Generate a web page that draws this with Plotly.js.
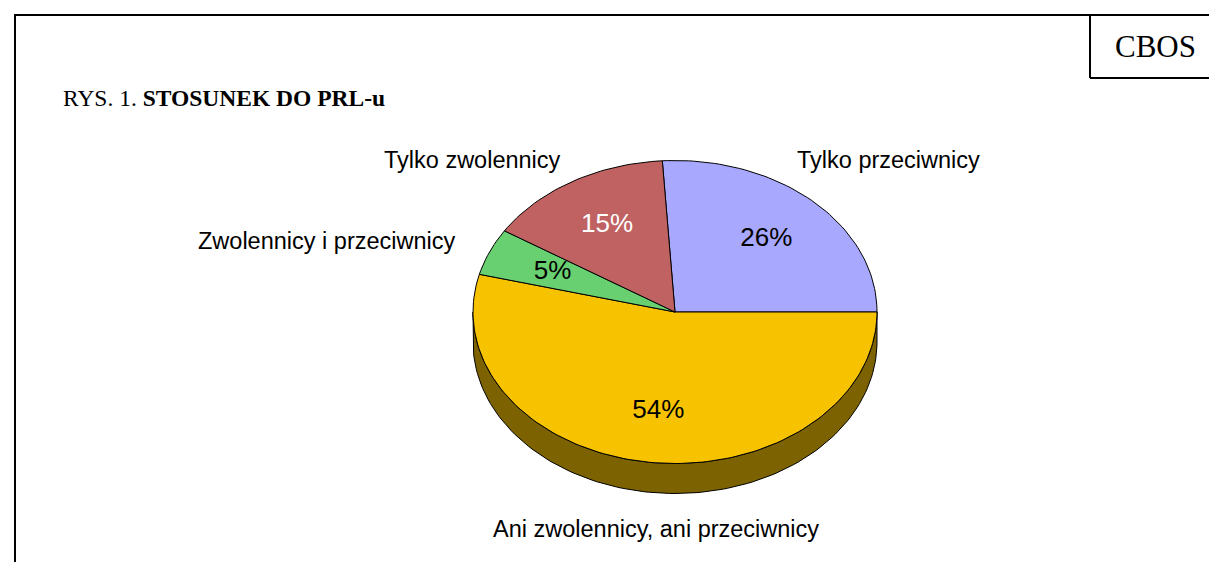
<!DOCTYPE html>
<html>
<head>
<meta charset="utf-8">
<script src="https://cdn.plot.ly/plotly-3.0.1.min.js"></script>
<style>
html,body{margin:0;padding:0;background:#fff;}
#chart{width:1209px;height:562px;}
</style>
</head>
<body>
<div id="chart"></div>
<script>
// ---- data ----
const categories = ["Tylko przeciwnicy", "Ani zwolennicy, ani przeciwnicy", "Zwolennicy i przeciwnicy", "Tylko zwolennicy"];
const values = [26, 54, 5, 15];
const pctLabels = ["26%", "54%", "5%", "15%"];
const colors = ["#A8A8FF", "#F7C300", "#68D070", "#C06262"];
const pctTextColors = ["#000000", "#000000", "#000000", "#FFFFFF"];

// ---- geometry (pixel-space axes) ----
const W = 1209, H = 562;
const cx = 675, cy = 312, rx = 202, ry = 151.5, depth = 30;
const total = values.reduce((a, b) => a + b, 0);
const startAngle = 90 - values[0] / total * 360; // first slice ends at 3 o'clock

function pt(deg, dy) {
  const r = deg * Math.PI / 180;
  return [cx + rx * Math.sin(r), cy - ry * Math.cos(r) + (dy || 0)];
}
function darken(hex, f) {
  const n = parseInt(hex.slice(1), 16);
  const r = Math.round(((n >> 16) & 255) * f), g = Math.round(((n >> 8) & 255) * f), b = Math.round((n & 255) * f);
  return "rgb(" + r + "," + g + "," + b + ")";
}

const traces = [];
const sideTraces = [];
let a = startAngle;
const labelX = [], labelY = [];
values.forEach((v, i) => {
  const span = v / total * 360;
  const a0 = a, a1 = a + span;
  // top face
  const xs = [cx], ys = [cy];
  const n = Math.max(4, Math.ceil(span / 1.5));
  for (let k = 0; k <= n; k++) {
    const p = pt(a0 + span * k / n);
    xs.push(p[0]); ys.push(p[1]);
  }
  xs.push(cx); ys.push(cy);
  traces.push({
    type: "scatter", mode: "lines", x: xs, y: ys, fill: "toself",
    fillcolor: colors[i], line: {color: "#000", width: 1}, hoverinfo: "skip", showlegend: false
  });
  // side face (visible front half: 90..270 degrees, also wrapped)
  [[90, 270], [450, 630]].forEach(rng => {
    const lo = Math.max(a0, rng[0]), hi = Math.min(a1, rng[1]);
    if (hi > lo) {
      const sx = [], sy = [];
      const m = Math.max(4, Math.ceil((hi - lo) / 1.5));
      for (let k = 0; k <= m; k++) { const p = pt(lo + (hi - lo) * k / m); sx.push(p[0]); sy.push(p[1]); }
      for (let k = m; k >= 0; k--) { const p = pt(lo + (hi - lo) * k / m, depth); sx.push(p[0]); sy.push(p[1]); }
      sx.push(sx[0]); sy.push(sy[0]);
      sideTraces.push({
        type: "scatter", mode: "lines", x: sx, y: sy, fill: "toself",
        fillcolor: darken(colors[i], 0.5), line: {color: "#000", width: 1}, hoverinfo: "skip", showlegend: false
      });
    }
  });
  const mid = pt(a0 + span / 2);
  labelX.push(cx + (mid[0] - cx) * 0.66);
  labelY.push(cy + (mid[1] - cy) * 0.66);
  a = a1;
});

const textTrace = {
  type: "scatter", mode: "text", x: labelX, y: labelY, text: pctLabels,
  textposition: "middle center",
  textfont: {family: "Liberation Sans, Arial, sans-serif", size: 26, color: pctTextColors},
  hoverinfo: "skip", showlegend: false
};

const catFont = {family: "Liberation Sans, Arial, sans-serif", size: 23.5, color: "#000"};
const annotations = [
  {x: 888, y: 160, text: categories[0]},
  {x: 656, y: 529, text: categories[1]},
  {x: 327, y: 241, text: categories[2]},
  {x: 472, y: 160, text: categories[3]}
].map(o => Object.assign({xref: "x", yref: "y", showarrow: false, font: catFont, xanchor: "center", yanchor: "middle"}, o));

annotations.push({
  xref: "x", yref: "y", x: 61, y: 98, xanchor: "left", yanchor: "middle", showarrow: false,
  text: "RYS. 1. <b>STOSUNEK DO PRL-u</b>",
  font: {family: "Liberation Serif, Times New Roman, serif", size: 23.5, color: "#000"}
});
annotations.push({
  xref: "x", yref: "y", x: 1155, y: 46, xanchor: "center", yanchor: "middle", showarrow: false,
  text: "CBOS",
  font: {family: "Liberation Serif, Times New Roman, serif", size: 31, color: "#000"}
});

const lineStyle = {color: "#000", width: 2};
const shapes = [
  {type: "line", xref: "x", yref: "y", x0: 14, x1: W, y0: 15, y1: 15, line: lineStyle},
  {type: "line", xref: "x", yref: "y", x0: 15, x1: 15, y0: 15, y1: H, line: lineStyle},
  {type: "line", xref: "x", yref: "y", x0: 1090, x1: 1090, y0: 15, y1: 78, line: lineStyle},
  {type: "line", xref: "x", yref: "y", x0: 1090, x1: W, y0: 78, y1: 78, line: lineStyle}
];

const layout = {
  width: W, height: H,
  margin: {l: 0, r: 0, t: 0, b: 0},
  paper_bgcolor: "#fff", plot_bgcolor: "#fff",
  xaxis: {range: [0, W], visible: false, fixedrange: true},
  yaxis: {range: [H, 0], visible: false, fixedrange: true},
  showlegend: false,
  annotations: annotations,
  shapes: shapes
};

Plotly.newPlot("chart", sideTraces.concat(traces).concat([textTrace]), layout, {staticPlot: true, displayModeBar: false});
</script>
</body>
</html>
